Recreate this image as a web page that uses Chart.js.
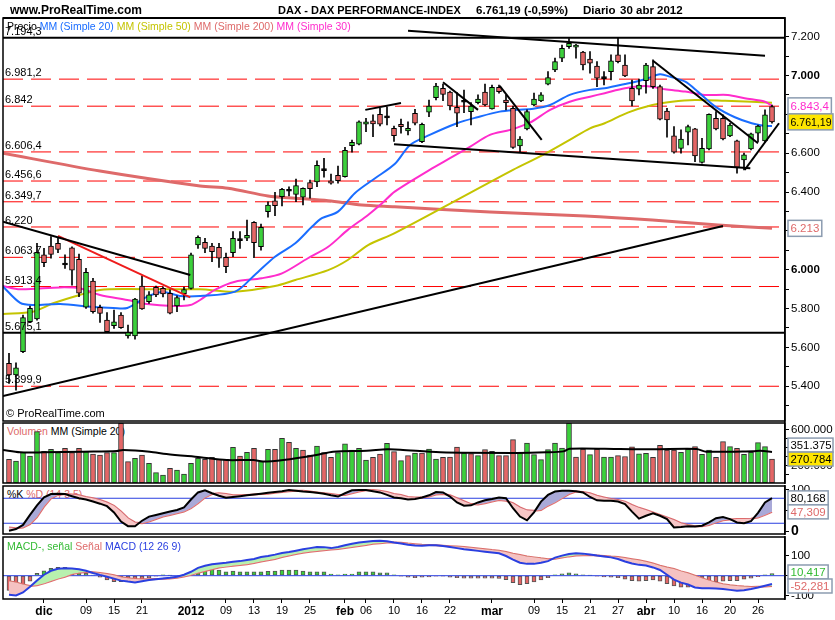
<!DOCTYPE html>
<html>
<head>
<meta charset="utf-8">
<script src="https://cdn.jsdelivr.net/npm/chart.js@4.4.1/dist/chart.umd.min.js"></script>
<style>
  body { margin: 0; background: #fff; width: 835px; height: 620px; overflow: hidden; position: relative; font-family: 'Liberation Sans', Arial, sans-serif; }
  canvas { position: absolute; left: 0; z-index: 2; }
  .t { position: absolute; white-space: nowrap; z-index: 5; }
  .lg { position: absolute; white-space: nowrap; font-size: 10.5px; line-height: 12px; z-index: 5; }
  .lg.under { z-index: 1; }
</style>
</head>
<body>
<div class="t" style="left:10px;top:3px;font:bold 12px 'Liberation Sans',Arial">www.ProRealTime.com</div>
<div class="t" style="left:278px;top:4px;font:bold 11px 'Liberation Sans',Arial">DAX - DAX PERFORMANCE-INDEX</div>
<div class="t" style="left:476px;top:4px;font:bold 11.5px 'Liberation Sans',Arial">6.761,19 (-0,59%)</div>
<div class="t" style="left:583px;top:4px;font:bold 11.5px 'Liberation Sans',Arial">Diario</div>
<div class="t" style="left:620px;top:4px;font:bold 11.5px 'Liberation Sans',Arial">30 abr 2012</div>

<div class="lg under" style="left:7px;top:425px"><span style="color:#de6a6a">Volumen</span> <span style="color:#000">MM (Simple 20)</span></div>
<div class="lg under" style="left:7px;top:488px"><span style="color:#000">%K</span> <span style="color:#de6a6a">%D (14 3 5)</span></div>

<canvas id="cPrice" width="835" height="407" style="top:16px"></canvas>
<canvas id="cVol" width="835" height="64" style="top:421px"></canvas>
<canvas id="cSto" width="835" height="52" style="top:484px"></canvas>
<canvas id="cMacd" width="835" height="85" style="top:535px"></canvas>

<div class="lg" style="left:7px;top:20px"><span style="color:#000">Precio</span> <span style="color:#1a6dff">MM (Simple 20)</span> <span style="color:#c4c400">MM (Simple 50)</span> <span style="color:#de6a6a">MM (Simple 200)</span> <span style="color:#ff2ccc">MM (Simple 30)</span></div>
<div class="lg" style="left:6px;top:407px;font-size:11px">&copy; ProRealTime.com</div>
<div class="lg" style="left:7px;top:540px"><span style="color:#33bb33">MACD-, señal</span> <span style="color:#de6a6a">Señal</span> <span style="color:#2a3fe0">MACD (12 26 9)</span></div>

<script>
// ---- sessions (trading days) ----
const months = [
  ['2011-11', [24, 25, 28, 29, 30]],
  ['2011-12', [1, 2, 5, 6, 7, 8, 9, 12, 13, 14, 15, 16, 19, 20, 21, 22, 23, 27, 28, 29, 30]],
  ['2012-01', [2, 3, 4, 5, 6, 9, 10, 11, 12, 13, 16, 17, 18, 19, 20, 23, 24, 25, 26, 27, 30, 31]],
  ['2012-02', [1, 2, 3, 6, 7, 8, 9, 10, 13, 14, 15, 16, 17, 20, 21, 22, 23, 24, 27, 28, 29]],
  ['2012-03', [1, 2, 5, 6, 7, 8, 9, 12, 13, 14, 15, 16, 19, 20, 21, 22, 23, 26, 27, 28, 29, 30]],
  ['2012-04', [2, 3, 4, 5, 10, 11, 12, 13, 16, 17, 18, 19, 20, 23, 24, 25, 26, 27, 30]]
];
const dates = months.flatMap(([m, ds]) => ds.map(d => m + '-' + String(d).padStart(2, '0')));

const xTicks = [
  ['2011-12-01', 'dic'], ['2011-12-09', '09'], ['2011-12-15', '15'], ['2011-12-21', '21'],
  ['2012-01-02', '2012'], ['2012-01-09', '09'], ['2012-01-13', '13'], ['2012-01-19', '19'], ['2012-01-25', '25'],
  ['2012-02-01', 'feb'], ['2012-02-06', '06'], ['2012-02-10', '10'], ['2012-02-16', '16'], ['2012-02-22', '22'],
  ['2012-03-01', 'mar'], ['2012-03-09', '09'], ['2012-03-15', '15'], ['2012-03-21', '21'], ['2012-03-27', '27'],
  ['2012-04-02', 'abr'], ['2012-04-10', '10'], ['2012-04-16', '16'], ['2012-04-20', '20'], ['2012-04-26', '26']
];
const monthNames = ['dic', '2012', 'feb', 'mar', 'abr'];

// ---- OHLC ----
const opens = [5518,5458,5578,5732,5746,6076,6122,6136,6028,6113, 6054,5807,5942,5806,5741,5712,5767,5659,5659,5916,
  5835,5909,5904,5879,5813,5876,5904,6127,6141,6122, 6115,6064,6088,6150,6162,6244,6118,6299,6354,6376,
  6404,6388,6373,6448,6452,6514,6457,6486,6479,6639, 6646,6749,6767,6800,6782,6728,6749,6714,6805,6659,
  6811,6886,6934,6914,6836,6862,6814,6860,6914,6828, 6939,6874,6831,6637,6725,6848,6869,6955,7029,7089,
  7149,7146,7120,7084,7049,6984,7020,7106,7054,6934, 6929,6973,7046,6943,6817,6689,6625,6708,6725,6553,
  6622,6780,6780,6689,6664,6565,6622,6703,6663,6840];
const highs = [5570,5520,5767,5813,6136,6110,6170,6167,6076,6118, 6080,6007,5956,5818,5779,5792,5779,5715,5852,5968,
  5887,5916,5912,5896,5865,5910,6085,6175,6162,6136, 6136,6085,6196,6196,6256,6248,6235,6350,6399,6419,
  6427,6466,6422,6462,6560,6574,6493,6534,6630,6668, 6766,6780,6797,6831,6839,6740,6775,6762,6826,6755,
  6874,6960,6956,6920,6912,6925,6860,6900,6956,6951, 6951,6900,6843,6685,6823,6909,6912,7020,7089,7157,
  7190,7160,7125,7123,7071,7020,7106,7194,7106,6977, 6981,7063,7080,6951,6831,6737,6720,6745,6728,6677,
  6803,6814,6797,6754,6668,6600,6703,6745,6823,6848];
const lows = [5415,5380,5573,5727,5740,6016,6059,6088,6007,5921, 5861,5801,5776,5729,5678,5698,5698,5647,5642,5795,
  5827,5861,5860,5772,5784,5845,5900,6110,6088,6041, 6012,5985,6067,6110,6149,6062,6101,6270,6278,6328,
  6380,6350,6333,6368,6427,6476,6441,6445,6476,6605, 6642,6711,6685,6740,6745,6660,6703,6694,6745,6654,
  6788,6874,6870,6823,6737,6809,6745,6853,6843,6826, 6909,6823,6625,6608,6720,6843,6865,6951,7020,7071,
  7140,7089,7029,7012,6943,6951,6977,7065,6994,6843, 6900,6909,6934,6771,6682,6600,6600,6642,6556,6548,
  6617,6720,6668,6685,6497,6514,6617,6659,6655,6754];
const closes = [5458,5495,5753,5801,6090,6036,6079,6105,6024,5998, 5879,5987,5784,5775,5681,5732,5701,5676,5849,5798,
  5870,5870,5875,5776,5856,5898,6076,6167,6110,6093, 6059,6015,6162,6153,6177,6139,6218,6333,6330,6414,
  6407,6433,6419,6417,6538,6510,6445,6458,6615,6656, 6762,6762,6750,6749,6786,6690,6737,6728,6754,6749,
  6843,6946,6903,6843,6806,6866,6843,6879,6848,6939, 6917,6860,6630,6672,6814,6878,6900,6989,7071,7140,
  7166,7155,7054,7063,6986,6988,7075,7071,6998,6869, 6951,7054,6943,6775,6771,6605,6673,6737,6586,6625,
  6800,6725,6673,6745,6527,6591,6699,6740,6797,6761.19];

// ---- moving averages on price, read as [session position, value] ----
const ma20 = [[-0.9,5915],[1.6,5829],[3.4,5818],[7.3,5823],[12,5808],[14.9,5803],[16.9,5803],[19.7,5860],[22,5885],[24.4,5865],
  [27.3,5865],[32.3,5887],[35.1,5973],[38,6067],[40.9,6136],[43.3,6222],[44.7,6265],[47,6299],[49.4,6394],[52.3,6471],
  [55.1,6544],[57.3,6642],[60.1,6694],[64,6754],[66.9,6785],[70.1,6814],[72.6,6823],[74.9,6829],[77.3,6848],[80.1,6900],
  [83,6926],[85.1,6934],[88,6956],[90.9,6981],[93,7006],[94.4,6994],[96.6,6968],[98.4,6917],[100.9,6840],[103.7,6785],
  [106.1,6754],[108,6740],[109,6740]];
const ma50 = [[-0.9,5772],[3.4,5784],[6.3,5827],[10.1,5870],[13,5896],[16.9,5901],[21.6,5899],[27.3,5899],[32.3,5887],[38,5916],
  [40.9,5947],[45.6,5998],[48.4,6050],[51.3,6127],[55.1,6188],[72,6514],[76.3,6591],[80.1,6668],[83,6728],[85.1,6754],
  [88.4,6809],[91.9,6848],[94.7,6865],[98,6874],[102.3,6870],[106.1,6865],[109,6860]];
const ma200 = [[-0.9,6600],[13,6508],[27.3,6431],[31.3,6419],[37,6380],[40.9,6368],[45.6,6355],[50.4,6333],[55.1,6324],
  [68.7,6297],[82.3,6277],[91.9,6256],[101.3,6230],[109,6213]];
const ma30 = [[-0.9,5916],[1.6,5899],[7.3,5909],[10.1,5904],[13,5870],[16.9,5844],[19.7,5823],[23.4,5813],[25.9,5818],[27.3,5844],
  [29.4,5896],[32.3,5938],[36.1,5956],[39,5981],[42.7,6059],[45.6,6118],[48.4,6205],[51.3,6282],[53.3,6342],[55.1,6402],
  [60.1,6514],[63,6574],[65.9,6634],[68.7,6694],[71.6,6720],[74.4,6757],[77.3,6823],[80.1,6865],[83,6891],[85.1,6909],
  [88,6934],[90.9,6946],[93.7,6929],[96.6,6917],[99.4,6900],[102.7,6900],[105.1,6883],[108,6865],[109,6843.4]];

// ---- drawn levels and trend lines ----
const levelsSolid = [7194.3, 5675.1];
const levelsDashed = [6981.2, 6842, 6606.4, 6456.6, 6349.7, 6220, 6063.7, 5913.4, 5399.9];
const trendLines = [
  [57, 7230, 108, 7101], [55, 6646, 105.9, 6522], [50.9, 6823, 56, 6858], [62, 6965, 67, 6823],
  [70.1, 6946, 76.1, 6668], [92, 7076, 107, 6651], [105.1, 6514, 110, 6754],
  [-0.86, 5350, 102, 6225], [-0.86, 6247, 25.9, 5973]
];
const redLine = [7, 6174, 25.9, 5858];

// ---- volume ----
const volume = [268,249,347,306,581,358,381,343,392,343, 392,355,328,317,343,343,675,242,279,317,
  223,117,91,166,147,102,223,279,268,291, 268,268,404,306,347,392,242,381,381,506,
  460,392,374,317,419,343,291,343,442,374, 392,260,291,328,449,355,253,309,340,340,
  385,272,291,294,408,340,332,309,377,358, 309,309,491,340,453,321,264,377,453,396,
  679,294,385,321,385,294,294,309,300,410, 330,336,291,426,374,374,347,381,411,325,
  374,291,468,411,392,325,347,457,411,270.784].map(v => v * 1000);
const volMA = [[-0.9,374],[1.6,347],[4.9,347],[10.6,355],[15.4,362],[16.3,374],[20.1,355],[22.5,328],[27.3,291],[31.1,260],
  [34.9,260],[36.3,242],[39.2,260],[43.9,317],[46.3,355],[51.1,366],[54,381],[55.9,377],[61.6,347],[72.5,340],
  [76.8,347],[79.2,358],[80.1,389],[87.3,385],[92,381],[98.2,385],[99.6,355],[106.3,360],[107.3,366],[109,351.375]]
  .map(([i, v]) => [i, v * 1000]);

// ---- stochastic ----
const stochK = [2,6,16,40,63,82,90,91,90,85, 80,77,72,67,61,46,24,13,13,26, 36,40,44,48,52,58,77,94,99,92,
  86,81,83,85,87,89,91,93,95,97, 100,98,96,95,93,91,87,84,92,99, 100,100,97,94,88,82,80,77,78,82,
  87,95,94,84,70,62,63,70,75,78, 82,80,56,36,27,46,72,88,96,98, 98,97,94,83,75,74,74,72,66,48,
  31,38,44,38,30,10,11,13,12,14, 22,32,35,30,22,20,25,45,70,80.168];
const stochD = [10,8,10,18,35,60,80,88,90,89, 87,83,80,76,70,62,48,32,22,20, 24,30,36,40,44,48,56,68,82,90,
  92,90,87,87,88,89,90,91,93,95, 97,98,98,96,94,92,90,88,88,92, 96,99,100,98,95,90,88,83,82,82,
  84,89,90,87,80,73,66,65,68,72, 76,74,68,58,51,50,52,62,70,80, 90,96,95,92,86,82,78,76,72,64,
  57,52,46,40,34,28,20,16,13,13, 16,22,27,29,30,30,31,34,40,47.309];

// ---- MACD ----
const macd = [-97,-100,-85,-56,-25,5,25,35,38,37, 33,25,14,4,-5,-15,-25,-30,-34,-28, -22,-18,-14,-10,-5,5,20,40,50,58,
  62,66,71,74,80,85,95,100,107,115, 120,127,134,140,146,145,140,146,155,162, 168,172,176,177,175,168,163,157,153,152,
  155,154,151,146,140,134,130,126,122,118, 114,100,82,66,60,60,66,74,92,102, 110,114,112,108,102,98,93,85,72,62,
  55,52,42,29,5,-20,-35,-45,-60,-64, -64,-65,-68,-72,-76,-74,-68,-60,-51,-42];
const signal = [-28,-35,-45,-52,-48,-39,-27,-15,-5,8, 15,19,18,14,9,2,-8,-13,-17,-18, -18,-17,-16,-14,-11,-4,4,15,24,33,
  42,46,50,54,58,64,72,78,85,95, 103,110,116,121,125,129,133,136,141,146, 151,156,162,165,168,168,167,163,160,157,
  156,154,152,150,148,146,142,138,134,130, 127,120,112,105,98,93,88,84,86,92, 98,102,104,105,103,100,97,95,90,84,
  78,71,62,51,42,34,22,12,0,-13, -25,-35,-43,-48,-52,-55,-57,-56,-55,-52.281];
const hist = [-75,-68,-45,-28,12,25,37,42,42,32, 24,12,3,-8,-22,-30,-30,-30,-27,-19, -10,-2,5,2,0,3,12,29,34,34,
  29,20,24,20,20,20,20,22,24,29, 29,29,24,20,20,19,8,5,8,8, 19,19,19,15,14,5,-3,-8,-10,-8,
  -6,-2,-1,-8,-10,-12,-12,-12,-12,-12, -14,-20,-35,-45,-40,-32,-22,-10,5,10, 14,10,4,2,-3,-6,-8,-10,-18,-25,
  -28,-25,-22,-28,-40,-52,-58,-58,-60,-55, -42,-32,-28,-25,-25,-18,-12,-5,4,10.417];

// ---------------------------------------------------------------
const FONT = "'Liberation Sans', Arial, sans-serif";
const X_MIN = -6 / 7, X_MAX = 776 / 7;
const GREEN = '#3bd03b', RED = '#e46666', BLUE = '#2a3fe0', SALMON = '#de6a6a';
const idx = dates.map((d, i) => i);
const tickIdx = xTicks.map(([d]) => dates.indexOf(d));
const tickText = xTicks.map(([, t]) => t);

Chart.defaults.font.family = FONT;
Chart.defaults.animation = false;
Chart.defaults.events = [];

function fmt(v) {
  const neg = v < 0;
  let [a, b] = String(Math.abs(v)).split('.');
  a = a.replace(/\B(?=(\d{3})+(?!\d))/g, '.');
  return (neg ? '-' : '') + a + (b ? ',' + b : '');
}
const pts = arr => arr.map(([x, y]) => ({ x, y }));
const seg = (x1, y1, x2, y2) => [{ x: x1, y: y1 }, { x: x2, y: y2 }];
const hline = v => seg(X_MIN, v, X_MAX, v);
const line = (data, color, width, extra) => Object.assign({
  type: 'line', data, borderColor: color, borderWidth: width, pointRadius: 0, tension: 0, fill: false
}, extra || {});

function xAxis(show) {
  const ax = { type: 'linear', min: X_MIN, max: X_MAX, offset: false, display: show };
  if (show) Object.assign(ax, {
    afterBuildTicks: s => { s.ticks = tickIdx.map(v => ({ value: v })); },
    afterFit: s => { s.height = 21; s.paddingLeft = 0; s.paddingRight = 0; },
    grid: { drawOnChartArea: false, drawTicks: true, tickLength: 4, color: '#000', offset: false },
    border: { display: false },
    ticks: {
      autoSkip: false, maxRotation: 0, padding: 1, color: '#000',
      callback: (v, i) => tickText[i],
      font: c => monthNames.includes(tickText[c.index]) ? { size: 12, weight: 'bold' } : { size: 11 }
    }
  });
  return ax;
}
function yAxis(min, max, ticks, labelOf, fontOf) {
  return {
    position: 'right', min, max,
    afterBuildTicks: s => { s.ticks = ticks.map(v => ({ value: v })); },
    afterFit: s => { s.width = 50; s.paddingTop = 0; s.paddingBottom = 0; },
    grid: { drawOnChartArea: false, drawTicks: true, tickLength: 4, color: '#000' },
    border: { display: true, color: '#000', width: 1.5 },
    ticks: {
      autoSkip: false, padding: 2, color: '#000',
      callback: v => labelOf(v),
      font: c => (c.tick && fontOf(c.tick.value)) || { size: 11.5, weight: 'normal' }
    }
  };
}

const frame = {
  id: 'frame',
  afterDraw(chart, args, o) {
    const { ctx, chartArea: a } = chart;
    ctx.save();
    ctx.strokeStyle = '#000';
    ctx.lineWidth = 1.5;
    ctx.strokeRect(a.left, a.top, a.right - a.left, a.bottom - a.top);
    if (o.topWidth) { ctx.lineWidth = o.topWidth; ctx.beginPath(); ctx.moveTo(a.left, a.top); ctx.lineTo(a.right, a.top); ctx.stroke(); }
    ctx.restore();
  }
};

const boxes = {
  id: 'boxes',
  afterDraw(chart, args, o) {
    const { ctx } = chart, y = chart.scales.y, h = o.h || 14;
    const items = (o.items || []).map(b => Object.assign({}, b, { py: y.getPixelForValue(b.v) }));
    items.sort((a, b) => a.py - b.py);
    for (let i = items.length - 2; i >= 0; i--) {
      if (items[i].py > items[i + 1].py - h) items[i].py = items[i + 1].py - h;
    }
    ctx.save();
    ctx.font = '11.5px ' + FONT;
    ctx.textBaseline = 'middle';
    for (const b of items) {
      const w = Math.min(ctx.measureText(b.text).width + 5, 45);
      ctx.fillStyle = b.bg || '#fff';
      ctx.fillRect(788, b.py - h / 2, w, h);
      ctx.strokeStyle = '#8c9cb0';
      ctx.lineWidth = 1.5;
      ctx.strokeRect(788, b.py - h / 2, w, h);
      ctx.fillStyle = b.color;
      ctx.fillText(b.text, 790.5, b.py + 0.5, w - 4);
    }
    ctx.restore();
  }
};

const levelLabels = {
  id: 'levelLabels',
  afterDatasetsDraw(chart) {
    const { ctx } = chart, y = chart.scales.y;
    ctx.save();
    ctx.font = '11px ' + FONT;
    ctx.fillStyle = '#000';
    ctx.textBaseline = 'alphabetic';
    levelsSolid.concat(levelsDashed).forEach(v => ctx.fillText(fmt(v), 5, y.getPixelForValue(v) - 3));
    ctx.restore();
  }
};

const layout = { padding: { left: 3, right: 0, top: 2, bottom: 2 } };
const noPlugins = { legend: { display: false }, tooltip: { enabled: false } };

// ---- price panel ----
const bodyColor = idx.map(i => Math.abs(closes[i] - opens[i]) <= 5 ? '#000' : (closes[i] > opens[i] ? GREEN : RED));
new Chart(document.getElementById('cPrice'), {
  type: 'bar',
  data: {
    datasets: [
      ...trendLines.map(t => line(seg(...t), '#000', 2, { order: 0 })),
      line(seg(...redLine), '#ee1c1c', 2, { order: 0 }),
      {
        type: 'bar', data: idx.map(i => ({ x: i, y: [opens[i], closes[i]] })),
        backgroundColor: bodyColor, borderColor: '#000', borderWidth: 1, borderSkipped: false,
        barThickness: 5, minBarLength: 2, grouped: false, order: 1
      },
      {
        type: 'bar', data: idx.map(i => ({ x: i, y: [lows[i], highs[i]] })),
        backgroundColor: '#000', borderWidth: 0, barThickness: 1, grouped: false, order: 2
      },
      line(pts(ma20), '#1a6dff', 2, { order: 3, tension: 0.3 }),
      line(pts(ma30), '#ff2ccc', 2, { order: 3, tension: 0.3 }),
      line(pts(ma50), '#c4c400', 2, { order: 3, tension: 0.3 }),
      line(pts(ma200), SALMON, 3, { order: 3, tension: 0.3 }),
      ...levelsSolid.map(v => line(hline(v), '#000', 2, { order: 4 })),
      ...levelsDashed.map(v => line(hline(v), '#ff0000', 1, { order: 5, borderDash: [20, 8] }))
    ]
  },
  options: {
    responsive: false, layout,
    scales: {
      x: xAxis(false),
      y: yAxis(5221, 7296, [5300,5400,5500,5600,5700,5800,5900,6000,6100,6200,6300,6400,6500,6600,6700,6800,6900,7000,7100,7200],
        v => v % 200 === 0 ? fmt(v) : '', v => v % 1000 === 0 ? { size: 11.5, weight: 'bold' } : null)
    },
    plugins: Object.assign({}, noPlugins, {
      frame: { topWidth: 2 },
      boxes: { h: 16, items: [
        { v: ma30[ma30.length - 1][1], text: fmt(ma30[ma30.length - 1][1]), color: '#ff2ccc' },
        { v: closes[closes.length - 1], text: fmt(closes[closes.length - 1]), color: '#000', bg: '#ffe600' },
        { v: ma200[ma200.length - 1][1], text: fmt(ma200[ma200.length - 1][1]), color: SALMON }
      ] }
    })
  },
  plugins: [frame, levelLabels, boxes]
});

// ---- volume panel ----
const volUp = idx.map(i => i === 0 ? closes[0] >= opens[0] : closes[i] >= closes[i - 1]);
new Chart(document.getElementById('cVol'), {
  type: 'bar',
  data: {
    datasets: [
      line(pts(volMA), '#000', 2, { order: 0, tension: 0.3 }),
      {
        type: 'bar', data: idx.map(i => ({ x: i, y: volume[i] })),
        backgroundColor: volUp.map(u => u ? GREEN : RED), borderColor: '#333', borderWidth: 1,
        borderSkipped: false, barThickness: 5, order: 1
      }
    ]
  },
  options: {
    responsive: false, layout,
    scales: {
      x: xAxis(false),
      y: yAxis(0, 679200, [100000, 200000, 300000, 400000, 500000, 600000],
        v => v % 200000 === 0 ? fmt(v) : '', () => null)
    },
    plugins: Object.assign({}, noPlugins, {
      boxes: { h: 14, items: [
        { v: volMA[volMA.length - 1][1], text: fmt(volMA[volMA.length - 1][1]), color: '#000' },
        { v: volume[volume.length - 1], text: fmt(volume[volume.length - 1]), color: '#000', bg: '#ffe600' }
      ] }
    })
  },
  plugins: [frame, boxes]
});

// ---- stochastic panel ----
new Chart(document.getElementById('cSto'), {
  type: 'line',
  data: {
    datasets: [
      line(idx.map(i => ({ x: i, y: stochK[i] })), '#000', 2, { fill: { target: '+1', above: '#a9a9d8', below: '#f7c7c7' }, order: 0 }),
      line(idx.map(i => ({ x: i, y: stochD[i] })), SALMON, 2, { order: 1 }),
      line(hline(80), BLUE, 1, { order: 2 }),
      line(hline(20), BLUE, 1, { order: 2 })
    ]
  },
  options: {
    responsive: false, layout,
    scales: {
      x: xAxis(false),
      y: yAxis(-5.8, 109.4, [0, 50, 100], v => v === 50 ? '' : String(v),
        v => v === 0 ? { size: 14, weight: 'bold' } : null)
    },
    plugins: Object.assign({}, noPlugins, {
      boxes: { h: 14, items: [
        { v: stochK[stochK.length - 1], text: fmt(stochK[stochK.length - 1]), color: '#000' },
        { v: stochD[stochD.length - 1], text: fmt(stochD[stochD.length - 1]), color: SALMON }
      ] }
    })
  },
  plugins: [frame, boxes]
});

// ---- MACD panel ----
new Chart(document.getElementById('cMacd'), {
  type: 'bar',
  data: {
    datasets: [
      line(idx.map(i => ({ x: i, y: macd[i] })), BLUE, 2, { fill: { target: '+1', above: '#b8f0ae', below: '#f5c2c2' }, order: 0 }),
      line(idx.map(i => ({ x: i, y: signal[i] })), SALMON, 2, { order: 1 }),
      line(hline(0), BLUE, 1, { order: 2 }),
      {
        type: 'bar', data: idx.map(i => ({ x: i, y: hist[i] })),
        backgroundColor: hist.map(v => v >= 0 ? GREEN : RED), borderColor: '#555', borderWidth: 1,
        borderSkipped: false, barThickness: 4, order: 3
      }
    ]
  },
  options: {
    responsive: false,
    layout: { padding: { left: 3, right: 0, top: 2, bottom: 0 } },
    scales: {
      x: xAxis(true),
      y: yAxis(-118.3, 196.4, [-100, 0, 100], v => String(v), () => null)
    },
    plugins: Object.assign({}, noPlugins, {
      boxes: { h: 14, items: [
        { v: hist[hist.length - 1], text: fmt(hist[hist.length - 1]), color: '#33bb33' },
        { v: signal[signal.length - 1], text: fmt(signal[signal.length - 1]), color: SALMON }
      ] }
    })
  },
  plugins: [frame, boxes]
});
</script>
</body>
</html>
